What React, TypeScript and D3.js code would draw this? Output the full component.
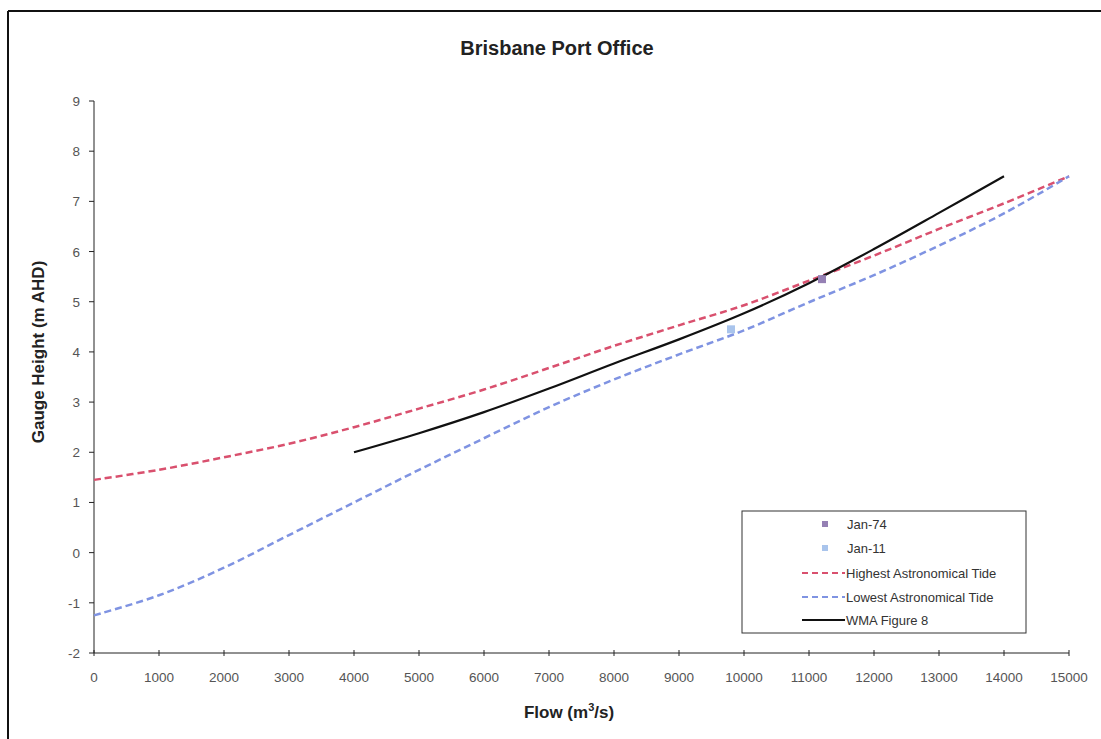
import React from "react";
import * as d3 from "d3";

const title = "Brisbane Port Office";
const xLabel = "Flow (m";
const yLabel = "Gauge Height (m AHD)";

const xTicks = [0, 1000, 2000, 3000, 4000, 5000, 6000, 7000, 8000, 9000, 10000, 11000, 12000, 13000, 14000, 15000];
const yTicks = [-2, -1, 0, 1, 2, 3, 4, 5, 6, 7, 8, 9];

const hatFlow = [0, 1000, 2000, 3000, 4000, 5000, 6000, 7000, 8000, 9000, 10000, 11000, 12000, 13000, 14000, 15000];
const hatHeight = [1.45, 1.65, 1.9, 2.17, 2.5, 2.87, 3.25, 3.68, 4.12, 4.53, 4.93, 5.42, 5.92, 6.45, 6.96, 7.5];

const latFlow = [0, 1000, 2000, 3000, 4000, 5000, 6000, 7000, 8000, 9000, 10000, 11000, 12000, 13000, 14000, 15000];
const latHeight = [-1.25, -0.85, -0.3, 0.35, 1.0, 1.65, 2.28, 2.9, 3.45, 3.95, 4.43, 4.99, 5.53, 6.12, 6.76, 7.5];

const wmaFlow = [4000, 5000, 6000, 7000, 8000, 9000, 10000, 11000, 12000, 13000, 14000];
const wmaHeight = [2.0, 2.38, 2.8, 3.27, 3.77, 4.25, 4.77, 5.37, 6.05, 6.77, 7.5];

const jan74 = [{ flow: 11200, height: 5.45 }];
const jan11 = [{ flow: 9800, height: 4.45 }];

const legendLabels = ["Jan-74", "Jan-11", "Highest Astronomical Tide", "Lowest Astronomical Tide", "WMA Figure 8"];

const RED = "#d9506e";
const BLUE = "#7f93e2";
const P74 = "#9580b4";
const P11 = "#a9c4ec";

export default function App() {
  const x = d3.scaleLinear().domain([0, 15000]).range([94, 1069]);
  const y = d3.scaleLinear().domain([-2, 9]).range([653, 101]);
  const line = d3
    .line<[number, number]>()
    .x((d) => x(d[0]))
    .y((d) => y(d[1]))
    .curve(d3.curveCatmullRom.alpha(0.5));

  const hat = hatFlow.map((f, i) => [f, hatHeight[i]] as [number, number]);
  const lat = latFlow.map((f, i) => [f, latHeight[i]] as [number, number]);
  const wma = wmaFlow.map((f, i) => [f, wmaHeight[i]] as [number, number]);

  const font = "Arial, 'Liberation Sans', sans-serif";
  const lx = 742, ly = 511, lw = 284, lh = 122;
  const rows = [524, 548, 573, 597, 620];

  return (
    <svg width={1101} height={739} style={{ position: "absolute", left: 0, top: 0, background: "#fff" }} fontFamily={font}>
      <rect x={0} y={0} width={1101} height={739} fill="#fff" />
      <line x1={8} y1={11} x2={1101} y2={11} stroke="#111" strokeWidth={2} />
      <line x1={8} y1={11} x2={8} y2={739} stroke="#111" strokeWidth={2} />

      <text x={557} y={55} textAnchor="middle" fontWeight="bold" fontSize={20} fill="#222">{title}</text>

      {/* axes */}
      <line x1={x(0)} y1={y(9)} x2={x(0)} y2={y(-2)} stroke="#222" strokeWidth={1} />
      <line x1={x(0)} y1={y(-2)} x2={x(15000)} y2={y(-2)} stroke="#222" strokeWidth={1} />
      {yTicks.map((t) => (
        <g key={"y" + t}>
          <line x1={x(0) - 5} x2={x(0)} y1={y(t)} y2={y(t)} stroke="#222" />
          <text x={x(0) - 14} y={y(t) + 5} textAnchor="end" fontSize={13.5} fill="#555">{t}</text>
        </g>
      ))}
      {xTicks.map((t) => (
        <g key={"x" + t}>
          <line x1={x(t)} x2={x(t)} y1={y(-2) - 3} y2={y(-2) + 3} stroke="#222" />
          <text x={x(t)} y={y(-2) + 29} textAnchor="middle" fontSize={13.5} fill="#555">{t}</text>
        </g>
      ))}

      <text x={569} y={718} textAnchor="middle" fontWeight="bold" fontSize={17} fill="#222">
        {xLabel}
        <tspan fontSize={11} dy={-7}>3</tspan>
        <tspan dy={7}>/s)</tspan>
      </text>
      <text transform={`translate(44,352) rotate(-90)`} textAnchor="middle" fontWeight="bold" fontSize={17} fill="#222">{yLabel}</text>

      {/* series */}
      <path d={line(hat) || ""} fill="none" stroke={RED} strokeWidth={2.5} strokeDasharray="7 4" />
      <path d={line(lat) || ""} fill="none" stroke={BLUE} strokeWidth={2.5} strokeDasharray="7 4" />
      <path d={line(wma) || ""} fill="none" stroke="#111" strokeWidth={2.2} />
      {jan74.map((p, i) => (
        <rect key={"a" + i} x={x(p.flow) - 4} y={y(p.height) - 4} width={8} height={8} fill={P74} />
      ))}
      {jan11.map((p, i) => (
        <rect key={"b" + i} x={x(p.flow) - 4} y={y(p.height) - 4} width={8} height={8} fill={P11} />
      ))}

      {/* legend */}
      <rect x={lx} y={ly} width={lw} height={lh} fill="#fff" stroke="#333" strokeWidth={1} />
      <rect x={822} y={rows[0] - 3} width={6} height={6} fill={P74} />
      <rect x={822} y={rows[1] - 3} width={6} height={6} fill={P11} />
      <line x1={802} x2={845} y1={rows[2]} y2={rows[2]} stroke={RED} strokeWidth={2} strokeDasharray="6 4" />
      <line x1={802} x2={845} y1={rows[3]} y2={rows[3]} stroke={BLUE} strokeWidth={2} strokeDasharray="6 4" />
      <line x1={802} x2={845} y1={rows[4]} y2={rows[4]} stroke="#111" strokeWidth={2} />
      {legendLabels.map((l, i) => (
        <text key={l} x={i < 2 ? 847 : 846} y={rows[i] + 4.5} fontSize={13} fill="#333">{l}</text>
      ))}
    </svg>
  );
}
